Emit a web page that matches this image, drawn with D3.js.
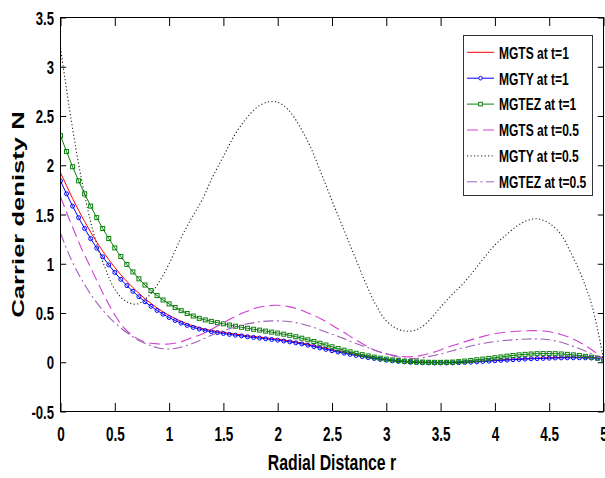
<!DOCTYPE html>
<html lang="en">
<head>
<meta charset="UTF-8">
<title>Carrier denisty N vs Radial Distance r</title>
<style>
    body { margin: 0; background: #fff; }
    svg { display: block; }
    text { font-family: "Liberation Sans", Arial, sans-serif; font-weight: bold; fill: #000; }
</style>
</head>
<body>
<svg id="chart" width="605" height="478"></svg>

<script src="https://d3js.org/d3.v7.min.js"></script>
<script>
    // radial grid of the t=1 runs (markers sit on every sample, step 5/90)
    const rFine = d3.range(91).map(i => i * 5 / 90);
    // radial grid used for the t=0.5 runs
    const rCoarse = [0, 0.1, 0.2, 0.3, 0.4, 0.5, 0.6, 0.7, 0.8, 0.9,
        1, 1.1, 1.2, 1.3, 1.4, 1.5, 1.6, 1.7, 1.8, 1.9,
        2, 2.1, 2.2, 2.3, 2.4, 2.5, 2.6, 2.7, 2.8, 2.9,
        3, 3.1, 3.2, 3.3, 3.4, 3.5, 3.6, 3.7, 3.8, 3.9,
        4, 4.1, 4.2, 4.3, 4.4, 4.5, 4.6, 4.7, 4.8, 4.9, 5];

    const mgtsT1 = [1.925, 1.792, 1.663, 1.542, 1.428, 1.321, 1.221, 1.128, 1.042, 0.962,
        0.888, 0.82, 0.758, 0.7, 0.646, 0.597, 0.552, 0.512, 0.476, 0.444,
        0.415, 0.39, 0.369, 0.351, 0.335, 0.323, 0.313, 0.303, 0.294, 0.286,
        0.278, 0.269, 0.262, 0.255, 0.248, 0.241, 0.234, 0.226, 0.217, 0.207,
        0.196, 0.183, 0.169, 0.155, 0.141, 0.127, 0.114, 0.101, 0.089, 0.078,
        0.066, 0.055, 0.045, 0.036, 0.027, 0.02, 0.014, 0.009, 0.005, 0.002,
        0.0, -0.001, -0.002, -0.002, -0.002, -0.001, 0.001, 0.003, 0.006, 0.009,
        0.013, 0.016, 0.02, 0.024, 0.027, 0.031, 0.034, 0.037, 0.04, 0.042,
        0.044, 0.046, 0.048, 0.049, 0.05, 0.05, 0.05, 0.049, 0.047, 0.045,
        0.042];

    const mgtyT1 = [1.84, 1.71, 1.585, 1.468, 1.358, 1.255, 1.159, 1.07, 0.988, 0.912,
        0.842, 0.778, 0.72, 0.665, 0.614, 0.568, 0.526, 0.488, 0.454, 0.424,
        0.397, 0.374, 0.354, 0.337, 0.322, 0.311, 0.301, 0.292, 0.283, 0.275,
        0.267, 0.259, 0.252, 0.245, 0.238, 0.231, 0.224, 0.216, 0.207, 0.197,
        0.186, 0.173, 0.159, 0.145, 0.131, 0.117, 0.104, 0.092, 0.08, 0.069,
        0.058, 0.047, 0.038, 0.029, 0.021, 0.014, 0.009, 0.004, 0.0, -0.003,
        -0.005, -0.006, -0.007, -0.007, -0.007, -0.006, -0.004, -0.002, 0.001, 0.004,
        0.008, 0.011, 0.015, 0.019, 0.022, 0.026, 0.029, 0.032, 0.035, 0.037,
        0.039, 0.041, 0.043, 0.044, 0.045, 0.045, 0.045, 0.044, 0.043, 0.042,
        0.04];

    const mgtezT1 = [2.30, 2.14, 1.985, 1.842, 1.71, 1.585, 1.468, 1.358, 1.256, 1.161,
        1.073, 0.992, 0.917, 0.847, 0.784, 0.728, 0.677, 0.632, 0.592, 0.556,
        0.524, 0.495, 0.469, 0.446, 0.43, 0.415, 0.402, 0.39, 0.378, 0.366,
        0.355, 0.345, 0.335, 0.326, 0.316, 0.306, 0.296, 0.285, 0.273, 0.259,
        0.244, 0.228, 0.211, 0.193, 0.175, 0.157, 0.139, 0.122, 0.106, 0.091,
        0.077, 0.064, 0.052, 0.041, 0.032, 0.024, 0.017, 0.011, 0.007, 0.004,
        0.002, 0.0, -0.001, -0.001, 0.0, 0.002, 0.006, 0.012, 0.018, 0.025,
        0.032, 0.039, 0.046, 0.054, 0.062, 0.069, 0.075, 0.08, 0.084, 0.087,
        0.088, 0.088, 0.087, 0.084, 0.08, 0.075, 0.068, 0.06, 0.051, 0.041,
        0.03];

    const mgtsT05 = [1.68, 1.40, 1.14, 0.91, 0.68, 0.48, 0.33, 0.245, 0.20, 0.186,
        0.186, 0.205, 0.245, 0.285, 0.34, 0.40, 0.46, 0.51, 0.55, 0.572,
        0.578, 0.565, 0.535, 0.49, 0.44, 0.375, 0.31, 0.24, 0.175, 0.12,
        0.085, 0.065, 0.055, 0.065, 0.09, 0.125, 0.165, 0.2, 0.235, 0.265,
        0.29, 0.305, 0.315, 0.32, 0.32, 0.31, 0.285, 0.245, 0.19, 0.12,
        0.03];

    const mgtyT05 = [3.19, 2.45, 1.82, 1.33, 0.99, 0.74, 0.62, 0.59, 0.66, 0.80,
        1.0, 1.24, 1.45, 1.64, 1.88, 2.09, 2.30, 2.46, 2.58, 2.64,
        2.64, 2.56, 2.40, 2.19, 1.92, 1.64, 1.37, 1.10, 0.83, 0.59,
        0.42, 0.34, 0.315, 0.34, 0.43, 0.56, 0.68, 0.79, 0.92, 1.06,
        1.19, 1.29, 1.38, 1.44, 1.455, 1.41, 1.31, 1.11, 0.87, 0.55,
        0.03];

    const mgtezT05 = [1.31, 1.04, 0.83, 0.655, 0.515, 0.40, 0.31, 0.235, 0.18, 0.145,
        0.135, 0.15, 0.185, 0.23, 0.28, 0.32, 0.355, 0.385, 0.405, 0.418,
        0.42, 0.413, 0.395, 0.365, 0.325, 0.285, 0.245, 0.2, 0.16, 0.12,
        0.085, 0.055, 0.038, 0.04, 0.06, 0.085, 0.115, 0.143, 0.17, 0.193,
        0.21, 0.222, 0.23, 0.236, 0.237, 0.228, 0.205, 0.17, 0.13, 0.08,
        0.03];

    const seriesNames = ["MGTS at t=1", "MGTY at t=1", "MGTEZ at t=1",
        "MGTS at t=0.5", "MGTY at t=0.5", "MGTEZ at t=0.5"];
    const xTicks = [0, 0.5, 1, 1.5, 2, 2.5, 3, 3.5, 4, 4.5, 5];
    const yTicks = [-0.5, 0, 0.5, 1, 1.5, 2, 2.5, 3, 3.5];

    // styles for each run, same order as the names
    const series = [
        { r: rFine, n: mgtsT1, color: "#ff0000", dash: null, marker: null },
        { r: rFine, n: mgtyT1, color: "#0000ff", dash: null, marker: "circle" },
        { r: rFine, n: mgtezT1, color: "#0a800a", dash: null, marker: "square" },
        { r: rCoarse, n: mgtsT05, color: "#d040d0", dash: "11,5", marker: null },
        { r: rCoarse, n: mgtyT05, color: "#222222", dash: "1.2,2.3", marker: null },
        { r: rCoarse, n: mgtezT05, color: "#9c62b8", dash: "10,3.5,2,3.5", marker: null }
    ].map((s, i) => ({ ...s, name: seriesNames[i] }));

    const svg = d3.select("#chart");
    const plotLeft = 60.5, plotRight = 603.5, plotTop = 17.5, plotBottom = 411.5;

    const x = d3.scaleLinear().domain([0, 5]).range([plotLeft, plotRight]);
    const y = d3.scaleLinear().domain([-0.5, 3.5]).range([plotBottom, plotTop]);

    svg.append("rect").attr("width", 605).attr("height", 478).attr("fill", "#fff");

    svg.append("clipPath").attr("id", "plotClip")
        .append("rect")
        .attr("x", plotLeft).attr("y", plotTop)
        .attr("width", plotRight - plotLeft).attr("height", plotBottom - plotTop);

    // the curves
    const plot = svg.append("g").attr("clip-path", "url(#plotClip)");

    series.forEach(s => {
        const pts = s.r.map((r, i) => [r, s.n[i]]);
        const line = d3.line()
            .x(d => x(d[0]))
            .y(d => y(d[1]))
            .curve(s.r === rFine ? d3.curveLinear : d3.curveCatmullRom.alpha(0.5));

        plot.append("path")
            .datum(pts)
            .attr("fill", "none")
            .attr("stroke", s.color)
            .attr("stroke-width", s.dash ? 1.1 : 1)
            .attr("stroke-dasharray", s.dash)
            .attr("d", line);

        if (s.marker === "circle") {
            plot.selectAll(null).data(pts).enter().append("circle")
                .attr("cx", d => x(d[0]))
                .attr("cy", d => y(d[1]))
                .attr("r", 2)
                .attr("fill", "none")
                .attr("stroke", s.color)
                .attr("stroke-width", 1);
        } else if (s.marker === "square") {
            plot.selectAll(null).data(pts).enter().append("rect")
                .attr("x", d => x(d[0]) - 2)
                .attr("y", d => y(d[1]) - 2)
                .attr("width", 4)
                .attr("height", 4)
                .attr("fill", "none")
                .attr("stroke", s.color)
                .attr("stroke-width", 1);
        }
    });

    // axes with inward ticks on all four sides
    const fmt = d => String(d);

    const xAxis = svg.append("g")
        .attr("transform", `translate(0,${plotBottom})`)
        .call(d3.axisBottom(x).tickValues(xTicks).tickFormat(fmt).tickSize(-8.5).tickSizeOuter(0));
    xAxis.selectAll("text")
        .attr("y", 29.5).attr("dy", null)
        .attr("font-size", 20.5)
        .attr("transform", "scale(0.66,1)");

    svg.append("g")
        .attr("transform", `translate(0,${plotTop})`)
        .call(d3.axisTop(x).tickValues(xTicks).tickFormat("").tickSize(-8.5).tickSizeOuter(0));

    const yAxis = svg.append("g")
        .attr("transform", `translate(${plotLeft},0)`)
        .call(d3.axisLeft(y).tickValues(yTicks).tickFormat(fmt).tickSize(-5.7).tickSizeOuter(0));
    // keep the right edge of the labels at 54px after the squeeze
    yAxis.selectAll("text")
        .attr("x", -6.5 / 0.71).attr("y", 6.6).attr("dy", null)
        .attr("font-size", 18.5)
        .attr("text-anchor", "end")
        .attr("transform", "scale(0.71,1)");

    svg.append("g")
        .attr("transform", `translate(${plotRight},0)`)
        .call(d3.axisRight(y).tickValues(yTicks).tickFormat("").tickSize(-5.7).tickSizeOuter(0));

    svg.selectAll(".domain").remove();
    svg.selectAll(".tick line").attr("stroke", "#000").attr("stroke-width", 1);
    svg.selectAll(".tick text").attr("fill", "#000");
    svg.selectAll("g").attr("font-family", null);

    // frame
    svg.append("rect")
        .attr("x", plotLeft).attr("y", plotTop)
        .attr("width", plotRight - plotLeft).attr("height", plotBottom - plotTop)
        .attr("fill", "none")
        .attr("stroke", "#000")
        .attr("stroke-width", 1);

    // axis titles
    svg.append("text")
        .attr("transform", `translate(${(plotLeft + plotRight) / 2},470) scale(0.72,1)`)
        .attr("text-anchor", "middle")
        .attr("font-size", 22)
        .text("Radial Distance r");

    svg.append("text")
        .attr("transform", `translate(23.5,${(plotTop + plotBottom) / 2}) rotate(-90) scale(1,0.64)`)
        .attr("text-anchor", "middle")
        .attr("font-size", 25.6)
        .text("Carrier denisty N");

    // legend
    const legend = svg.append("g");
    legend.append("rect")
        .attr("x", 463.5).attr("y", 35.5)
        .attr("width", 129).attr("height", 160)
        .attr("fill", "#fff")
        .attr("stroke", "#333")
        .attr("stroke-width", 1);

    series.forEach((s, i) => {
        const ly = 52.3 + i * 25.9;
        legend.append("line")
            .attr("x1", 467).attr("x2", 494)
            .attr("y1", ly).attr("y2", ly)
            .attr("stroke", s.color)
            .attr("stroke-width", 1)
            .attr("stroke-dasharray", s.dash);
        if (s.marker === "circle") {
            legend.append("circle")
                .attr("cx", 480.5).attr("cy", ly).attr("r", 1.8)
                .attr("fill", "#fff").attr("stroke", s.color);
        } else if (s.marker === "square") {
            legend.append("rect")
                .attr("x", 478.7).attr("y", ly - 1.8).attr("width", 3.6).attr("height", 3.6)
                .attr("fill", "#fff").attr("stroke", s.color);
        }
        legend.append("text")
            .attr("transform", `translate(499,${ly + 6.3}) scale(0.7,1)`)
            .attr("font-size", 17.2)
            .text(s.name);
    });
</script>
</body>
</html>
